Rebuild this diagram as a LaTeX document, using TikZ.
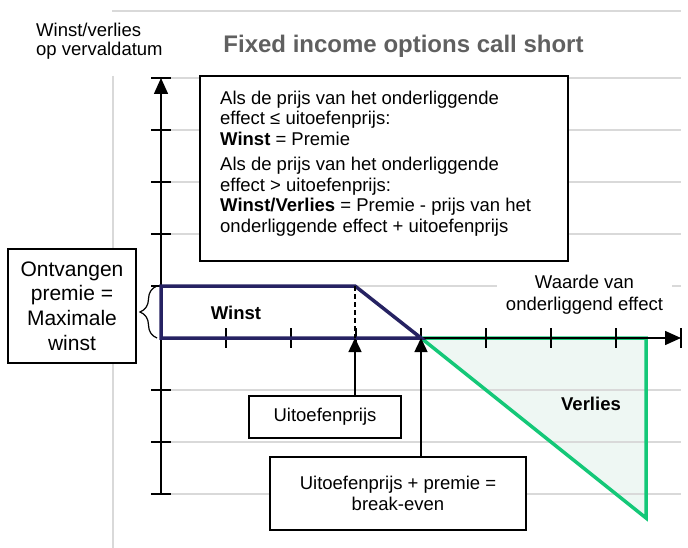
\documentclass[tikz,border=0pt]{standalone}
\usepackage{fontspec}
\setmainfont{Liberation Sans}
\usetikzlibrary{arrows.meta,decorations.pathreplacing}
\definecolor{navy}{RGB}{38,34,98}
\definecolor{lossgreen}{RGB}{20,200,120}
\definecolor{lossfill}{RGB}{238,247,243}
\definecolor{gridgray}{RGB}{217,217,217}
\definecolor{titlegray}{RGB}{96,96,96}
\begin{document}
\begin{tikzpicture}[x=1pt,y=-1pt,
  gridline/.style={gridgray, line width=1.5pt},
  box/.style={draw=black, line width=1.5pt, fill=white},
  txt/.style={font=\fontsize{18.5}{20.7}\selectfont, inner sep=0pt},
  axisline/.style={line width=1.5pt, -{Triangle[length=16pt,width=14pt]}},
  ticky/.style={line width=1.5pt},
  uparrow/.style={line width=1.5pt, -{Triangle[length=14pt,width=13pt]}}]
\useasboundingbox (0,0) rectangle (688,548);

% key points
\coordinate (O) at (161,338);
\coordinate (ytop) at (161,78);
\coordinate (ybot) at (161,494);
\coordinate (xend) at (681,338);
\coordinate (P) at (161,286);
\coordinate (Kt) at (355,286);
\coordinate (K) at (355,338);
\coordinate (B) at (421,338);
\coordinate (G1) at (646,338);
\coordinate (G2) at (646,518);

% loss fill
\fill[lossfill] (B) -- (G1) -- (G2) -- cycle;

% gray grid
\draw[gridline] (112,11) -- (681,11);
\draw[gridline] (113,76) -- (113,548);
\foreach \y in {78,130,182,234,286,390,442,494}
  \draw[gridline] (171,\y) -- (681,\y);

% loss outline
\draw[lossgreen, line width=3.5pt, line join=miter] (B) -- (G1) -- (G2) -- cycle;

% axes
\draw[axisline] (ybot) -- (ytop);
\draw[axisline] (O) -- (xend);
\foreach \y in {78,130,182,234,286,390,442,494}
  \draw[ticky] (151,\y) -- (171,\y);
\foreach \x in {226,291,356,421,486,551,616,681}
  \draw[ticky] (\x,328) -- (\x,348);

% profit region
\draw[navy, line width=3.5pt, line join=miter] (O) -- (P) -- (Kt) -- (B) -- cycle;
\draw[line width=2pt, dash pattern=on 5pt off 3pt] (Kt) -- (K);

% brace
\draw[decorate, decoration={brace, amplitude=17pt}, line width=1.2pt] (157,338) -- (157,286);

% titles
\node[txt, anchor=base west] (yl1) at (36,37) {Winst/verlies};
\node[txt, anchor=base west] (yl2) at (36,56) {op vervaldatum};
\node[inner sep=0pt, anchor=base, text=titlegray, font=\fontsize{24}{28}\selectfont\bfseries] (title) at (403.5,53) {Fixed income options call short};

% info box
\node[box, minimum width=368pt, minimum height=185pt] (info) at (384,168.5) {};
\node[txt, anchor=north west, align=left] (infotext) at (220,90.5)
  {Als de prijs van het onderliggende\\effect ≤ uitoefenprijs:\\\textbf{Winst} = Premie\\[4.3pt]Als de prijs van het onderliggende\\effect > uitoefenprijs:\\\textbf{Winst/Verlies} = Premie - prijs van het\\onderliggende effect + uitoefenprijs};

% axis label
\node[font=\fontsize{18.5}{22}\selectfont, fill=white, align=center, inner xsep=9pt, inner ysep=2pt, anchor=north] (waarde) at (584.5,272.5) {Waarde van\\onderliggend effect};

% region labels
\node[txt, anchor=base] (winst) at (236,319) {\bfseries Winst};
\node[txt, anchor=base] (verlies) at (591,410) {\bfseries Verlies};

% left box
\node[box, minimum width=128pt, minimum height=114pt, align=center, inner sep=0pt, font=\fontsize{21}{24.7}\selectfont] (ontv) at (72,306) {Ontvangen\\premie =\\Maximale\\winst};

% bottom boxes
\node[box, txt, minimum width=152pt, minimum height=42pt] (uit) at (325,417) {Uitoefenprijs};
\node[box, txt, align=center, font=\fontsize{18.5}{21}\selectfont, minimum width=256pt, minimum height=73pt] (be) at (398,493.5) {Uitoefenprijs + premie =\\break-even};

% arrows
\draw[uparrow] (uit.north -| K) -- (K);
\draw[uparrow] (be.north -| B) -- (B);
\end{tikzpicture}
\end{document}
